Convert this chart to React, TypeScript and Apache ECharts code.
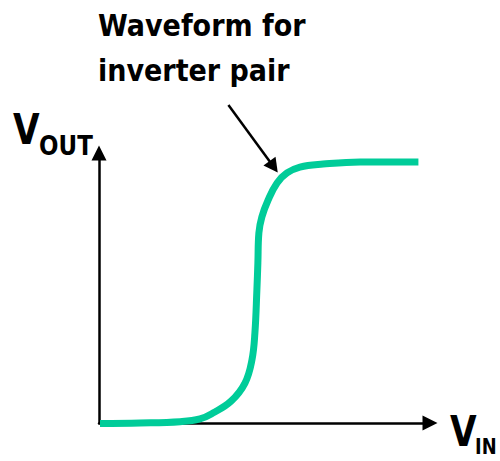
import React, { useEffect, useRef } from "react";
import * as echarts from "echarts";

// Transfer curve (x: V_IN, y: V_OUT) in percent of axis range
const vin = [0.3, 12.4, 24.5, 30.5, 34.4, 39.9, 44.1, 46.2, 47.1, 47.7, 48.0, 48.3, 49.2, 51.1, 53.8, 56.8, 60.7, 67.7, 78.9, 96.5];
const vout = [-0.2, 0, 0.5, 1.5, 3.7, 8.1, 14.8, 23.3, 33.3, 49.3, 59.3, 70.4, 76.3, 82.6, 88.9, 92.6, 94.8, 95.9, 96.7, 96.7];
// Pointer arrow (annotation) in the same axis units
const pointerStart = [39.1, 117.8];
const pointerEnd = [54.0, 92.8];
const titleLines = ["Waveform for", "inverter pair"];

const FONT = "'DejaVu Sans', sans-serif";

export default function App() {
  const ref = useRef<HTMLDivElement>(null);
  useEffect(() => {
    if (!ref.current) return;
    const chart = echarts.init(ref.current, undefined, { renderer: "svg" });
    const data = vin.map((x, i) => [x, vout[i]]);
    const axisCommon = {
      type: "value",
      min: 0,
      max: 100,
      axisLine: { show: true, symbol: ["none", "triangle"], symbolSize: [15, 15], lineStyle: { color: "#000", width: 2.5 } },
      axisTick: { show: false },
      axisLabel: { show: false },
      splitLine: { show: false },
    };
    chart.setOption({
      animation: false,
      grid: { left: 99, top: 153, width: 331, height: 270 },
      xAxis: axisCommon,
      yAxis: axisCommon,
      series: [
        {
          type: "line",
          data,
          smooth: 0.4,
          clip: false,
          showSymbol: false,
          symbol: "none",
          lineStyle: { color: "#00cc99", width: 7 },
        },
      ],
    });
    const s = chart.convertToPixel({ gridIndex: 0 }, pointerStart) as number[];
    const t = chart.convertToPixel({ gridIndex: 0 }, pointerEnd) as number[];
    const dx = t[0] - s[0];
    const dy = t[1] - s[1];
    const len = Math.sqrt(dx * dx + dy * dy);
    const ux = dx / len;
    const uy = dy / len;
    const headLen = 14;
    const headHalf = 7.5;
    const bx = t[0] - ux * headLen;
    const by = t[1] - uy * headLen;
    chart.setOption({
      graphic: [
        { type: "text", x: 98, y: 26, scaleX: 0.9, style: { text: titleLines[0], font: `bold 30px ${FONT}`, fill: "#000", verticalAlign: "middle" } },
        { type: "text", x: 98, y: 71, scaleX: 0.9, style: { text: titleLines[1], font: `bold 30px ${FONT}`, fill: "#000", verticalAlign: "middle" } },
        { type: "text", x: 13, y: 129, scaleX: 0.8, style: { text: "V", font: `bold 43px ${FONT}`, fill: "#000", verticalAlign: "middle" } },
        { type: "text", x: 39, y: 146, scaleX: 0.85, style: { text: "OUT", font: `bold 27px ${FONT}`, fill: "#000", verticalAlign: "middle" } },
        { type: "text", x: 450, y: 431, scaleX: 0.8, style: { text: "V", font: `bold 43px ${FONT}`, fill: "#000", verticalAlign: "middle" } },
        { type: "text", x: 475, y: 447, scaleX: 0.85, style: { text: "IN", font: `bold 21px ${FONT}`, fill: "#000", verticalAlign: "middle" } },
        { type: "line", shape: { x1: s[0], y1: s[1], x2: bx + ux * 2, y2: by + uy * 2 }, style: { stroke: "#000", lineWidth: 2.5 } },
        {
          type: "polygon",
          shape: {
            points: [
              [t[0], t[1]],
              [bx - uy * headHalf, by + ux * headHalf],
              [bx + uy * headHalf, by - ux * headHalf],
            ],
          },
          style: { fill: "#000" },
        },
      ],
    });
    return () => chart.dispose();
  }, []);
  return <div ref={ref} style={{ width: 500, height: 461, position: "absolute", left: 0, top: 0 }} />;
}
